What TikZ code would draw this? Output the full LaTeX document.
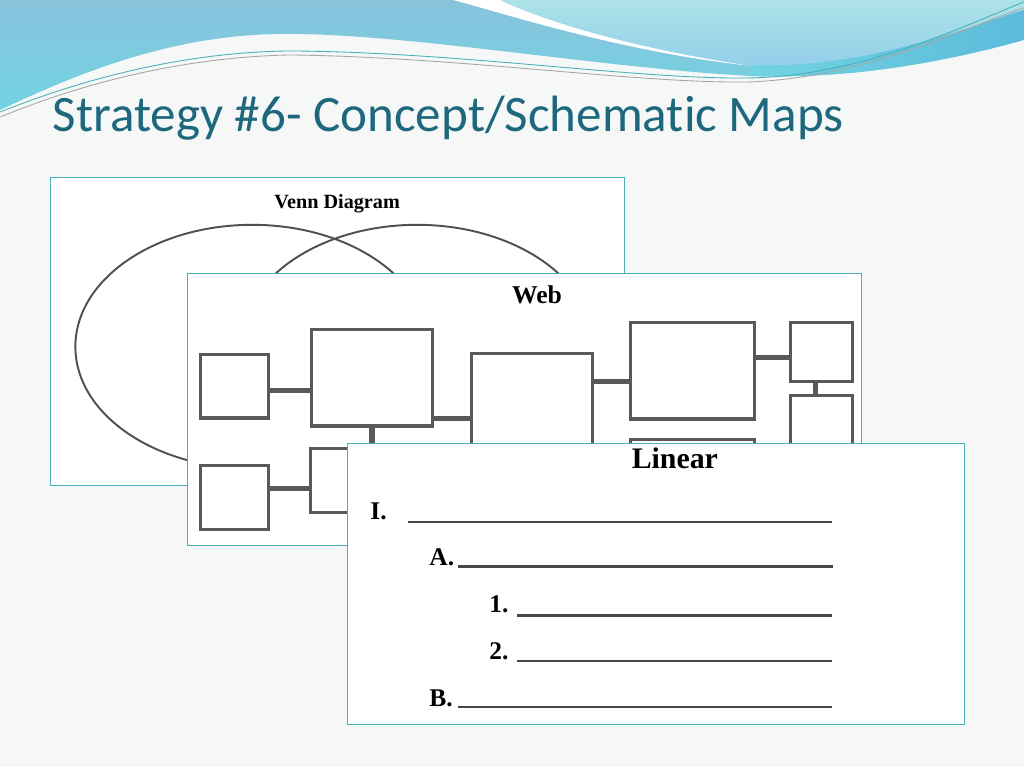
\documentclass[tikz,border=0pt]{standalone}
\usepackage{fontspec}
\setmainfont{Liberation Serif}
\newfontfamily\titlefont[Ligatures=NoCommon]{Carlito}
\definecolor{slidebg}{HTML}{F6F7F7}
\definecolor{wavedark}{HTML}{88C3DC}
\definecolor{wavecyan}{HTML}{72D3E1}
\definecolor{wavelight}{HTML}{ADE2E8}
\definecolor{wavesky}{HTML}{92CEEA}
\definecolor{waveband}{HTML}{5CBBDB}
\definecolor{titleteal}{HTML}{1D687C}
\definecolor{panelrim}{HTML}{4AAFB8}
\definecolor{boxgray}{HTML}{595959}
\tikzset{
  panel/.style={draw=panelrim, line width=0.6pt, fill=white, inner sep=0pt},
  wbox/.style={draw=boxgray, line width=1.9pt, fill=white, inner sep=0pt},
  link/.style={draw=boxgray, line width=3.1pt},
  oval/.style={draw=boxgray!90!black, line width=1.1pt},
  head/.style={font=\bfseries, anchor=base, inner sep=0pt},
  item/.style={font=\bfseries\fontsize{14.5}{16}\selectfont, anchor=base west, inner sep=0pt},
  blank/.style={draw=black!72, line width=1.2pt},
  thread/.style={line width=0.5pt}
}
\begin{document}
\begin{tikzpicture}[x=0.02cm, y=-0.02cm]
\fill[slidebg] (0,0) rectangle (1024,768);
% waves along the top
\shade[top color=wavedark, bottom color=wavecyan] (0,0) -- (0,110) .. controls (80,72) and (170,36) .. (277,34)
  .. controls (400,32) and (600,68) .. (750,76) .. controls (860,80) and (960,58) .. (1024,40) -- (1024,0) -- cycle;
\shade[top color=wavelight, bottom color=wavesky] (500,0) .. controls (560,28) and (660,58) .. (752,65)
  .. controls (860,70) and (960,30) .. (1024,10) -- (1024,0) -- cycle;
\shade[left color=wavecyan, right color=waveband] (752,65) .. controls (860,70) and (960,30) .. (1024,10) -- (1024,40)
  .. controls (960,58) and (860,80) .. (750,76) -- cycle;
\fill[white] (453,0) .. controls (500,12) and (620,52) .. (752,66) .. controls (640,50) and (545,22) .. (500,0) -- cycle;
\draw[thread, draw=panelrim] (0,112) .. controls (90,76) and (190,52) .. (290,51) .. controls (460,52) and (640,80) .. (750,78)
  .. controls (860,76) and (960,28) .. (1024,2);
\draw[thread, draw=gray!70] (0,117) .. controls (90,80) and (190,57) .. (290,55) .. controls (460,57) and (640,84) .. (750,82)
  .. controls (860,78) and (960,30) .. (1024,8);
\node[anchor=base west, inner sep=0pt, text=titleteal, font=\titlefont\fontsize{29.1}{35}\selectfont] (title) at (52,132)
  {Strategy \#6- Concept/Schematic Maps};

% venn
\node[panel, minimum width=11.5cm, minimum height=6.16cm] (venn) at (337.5,332) {};
\draw[oval] (252,347) ellipse [x radius=177, y radius=122];
\draw[oval] (417,347) ellipse [x radius=177, y radius=122];
\node[head, font=\bfseries\fontsize{11.5}{13}\selectfont] (venntitle) at (337,209) {Venn Diagram};

% web
\node[panel, minimum width=13.5cm, minimum height=5.44cm] (web) at (524.5,410) {};
\node[head, font=\bfseries\fontsize{14.6}{16}\selectfont] (webtitle) at (537,304) {Web};
\node[wbox, minimum width=1.36cm, minimum height=1.28cm] (b1) at (234,386.5) {};
\node[wbox, minimum width=2.42cm, minimum height=1.94cm] (b2) at (372,378) {};
\node[wbox, minimum width=2.42cm, minimum height=2.94cm] (b3) at (532,427) {};
\node[wbox, minimum width=2.48cm, minimum height=1.94cm] (b4) at (692.5,371) {};
\node[wbox, minimum width=1.24cm, minimum height=1.18cm] (b5) at (821.5,352) {};
\node[wbox, minimum width=1.24cm, minimum height=1.66cm] (b6) at (821.5,437.5) {};
\node[wbox, minimum width=2.48cm, minimum height=1.2cm] (b7) at (692.5,470) {};
\node[wbox, minimum width=1.36cm, minimum height=1.28cm] (b8) at (234,498) {};
\node[wbox, minimum width=2.16cm, minimum height=1.28cm] (b9) at (364,481) {};
\draw[link] (b1.east |- 0,391) -- (b2.west |- 0,391);
\draw[link] (b2.east |- 0,419) -- (b3.west |- 0,419);
\draw[link] (b3.east |- 0,382) -- (b4.west |- 0,382);
\draw[link] (b4.east |- 0,358) -- (b5.west |- 0,358);
\draw[link] (b5.south -| 816,0) -- (b6.north -| 816,0);
\draw[link] (b2.south) -- (b9.north -| b2.south);
\draw[link] (b8.east |- 0,489) -- (b9.west |- 0,489);

% linear
\node[panel, minimum width=12.36cm, minimum height=5.62cm] (linear) at (656,584.5) {};
\node[head, font=\bfseries\fontsize{17}{19}\selectfont] (lineartitle) at (675,469) {Linear};
\node[item] (lI) at (370,520) {I.};
\node[item] (lA) at (429,566) {A.};
\node[item] (l1) at (489,613) {1.};
\node[item] (l2) at (489,660) {2.};
\node[item] (lB) at (429,707) {B.};
\draw[blank] (408,522) -- (832,522);
\draw[blank] (458,567) -- (833,567);
\draw[blank] (517,616) -- (832,616);
\draw[blank] (517,662) -- (832,662);
\draw[blank] (458,708) -- (832,708);
\end{tikzpicture}
\end{document}
